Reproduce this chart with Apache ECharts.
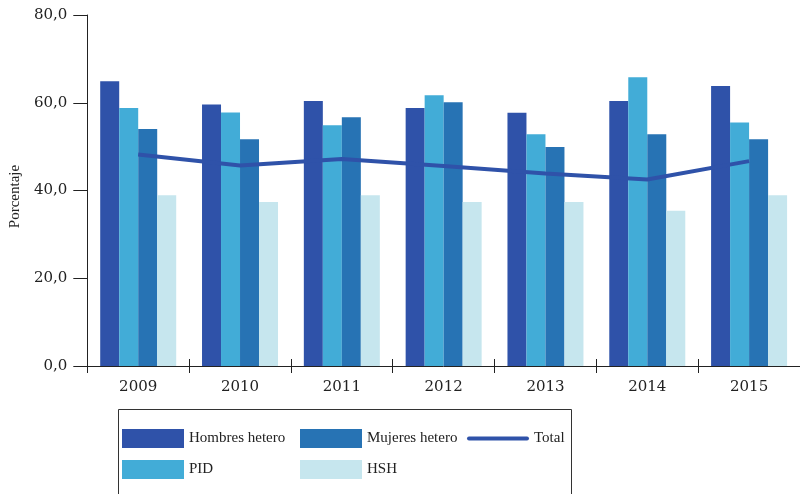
<!DOCTYPE html>
<html>
<head>
<meta charset="utf-8">
<script src="https://cdn.jsdelivr.net/npm/echarts@6/dist/echarts.min.js"></script>
<style>html,body{margin:0;padding:0;background:#fff}#c{width:800px;height:494px}</style>
</head>
<body>
<div id="c"></div>
<script>
const years = ['2009','2010','2011','2012','2013','2014','2015'];
const hombres = [64.9, 59.6, 60.4, 58.8, 57.7, 60.4, 63.8];
const pid     = [58.8, 57.8, 54.9, 61.7, 52.8, 65.8, 55.5];
const mujeres = [54.0, 51.7, 56.7, 60.1, 49.9, 52.8, 51.7];
const hsh     = [38.9, 37.4, 38.9, 37.4, 37.4, 35.4, 38.9];
const total   = [48.2, 45.7, 47.2, 45.6, 43.9, 42.5, 46.7];
const yTicks  = [0, 20, 40, 60, 80];

const C_H = '#2F52A9', C_P = '#42ACD7', C_M = '#2773B4', C_S = '#C6E6EE';
const serif = 'DejaVu Serif';
const lserif = 'Liberation Serif';

const chart = echarts.init(document.getElementById('c'), null, {renderer:'canvas'});
const barCommon = {type:'bar', barWidth:19, barGap:'0%', xAxisIndex:0, yAxisIndex:0};
const legText = {fontFamily:lserif, fontSize:15, color:'#222'};
chart.setOption({
  animation:false,
  grid:{left:87, top:15, width:723, height:351, containLabel:false},
  xAxis:[{
    type:'category', data:years, position:'bottom',
    axisLine:{show:true, lineStyle:{color:'#222', width:1}},
    axisTick:{show:true, alignWithLabel:false, length:7, lineStyle:{color:'#222'}},
    axisLabel:{fontFamily:serif, fontSize:15, color:'#222', margin:14},
    splitLine:{show:false}
  },{
    type:'category', data:years, position:'bottom',
    axisLine:{show:false},
    axisTick:{show:true, inside:true, alignWithLabel:false, length:7, lineStyle:{color:'#222'}},
    axisLabel:{show:false}, splitLine:{show:false}
  }],
  yAxis:{
    type:'value', min:yTicks[0], max:yTicks[yTicks.length-1], interval:20,
    name:'Porcentaje', nameLocation:'middle', nameGap:51, nameRotate:90,
    nameTextStyle:{fontFamily:lserif, fontSize:15, color:'#222', padding:[0,12,0,0]},
    axisLine:{show:true, lineStyle:{color:'#222', width:1}},
    axisTick:{show:true, length:14, lineStyle:{color:'#222'}},
    axisLabel:{fontFamily:serif, fontSize:15, color:'#222', margin:20,
      formatter:v=>v.toFixed(1).replace('.',',')},
    splitLine:{show:false}
  },
  legend:[
    {left:122, top:429, padding:0, orient:'vertical', icon:'rect', itemWidth:62, itemHeight:19, itemGap:12,
     textStyle:legText, data:['Hombres hetero','PID']},
    {left:300, top:429, padding:0, orient:'vertical', icon:'rect', itemWidth:62, itemHeight:19, itemGap:12,
     textStyle:legText, data:['Mujeres hetero','HSH']},
    {left:467, top:431, padding:0, orient:'vertical', icon:'path://M2,0 L60,0 A2,2 0 0 1 60,4 L2,4 A2,2 0 0 1 2,0 Z',
     itemWidth:62, itemHeight:19, textStyle:legText, data:['Total']}
  ],
  graphic:[{type:'rect', shape:{x:118.5, y:409.5, width:453, height:100},
    style:{fill:'none', stroke:'#333', lineWidth:1}, silent:true}],
  series:[
    Object.assign({name:'Hombres hetero', data:hombres, itemStyle:{color:C_H}}, barCommon),
    Object.assign({name:'PID', data:pid, itemStyle:{color:C_P}}, barCommon),
    Object.assign({name:'Mujeres hetero', data:mujeres, itemStyle:{color:C_M}}, barCommon),
    Object.assign({name:'HSH', data:hsh, itemStyle:{color:C_S}}, barCommon),
    {name:'Total', type:'line', data:total, symbol:'none', showSymbol:false,
     lineStyle:{color:C_H, width:4}, itemStyle:{color:C_H}, z:5}
  ]
});
</script>
</body>
</html>
